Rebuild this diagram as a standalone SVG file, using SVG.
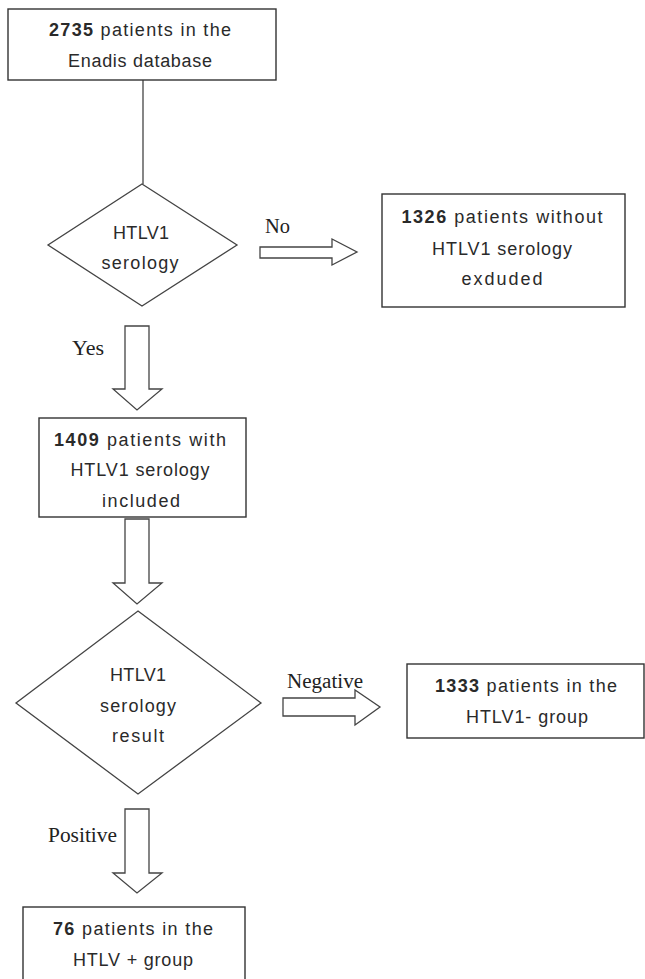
<svg xmlns="http://www.w3.org/2000/svg" width="645" height="979" viewBox="0 0 645 979">
<style>
.box{fill:#fff;stroke:#333;stroke-width:1.4}
.dia{fill:#fff;stroke:#444;stroke-width:1.3}
.arr{fill:#fff;stroke:#444;stroke-width:1.3;stroke-linejoin:miter}
.line{stroke:#444;stroke-width:1.3;fill:none}
.t{font-family:"Liberation Sans",Arial,sans-serif;font-size:18px;fill:#2a2a2a;text-anchor:middle}
.b{font-weight:bold}
.lbl{font-family:"Liberation Serif","Times New Roman",serif;font-size:20px;fill:#222}
</style>
<rect width="645" height="979" fill="#fff"/>
<g id="connectors">
<line class="line" x1="143" y1="80" x2="143" y2="184"/>
<path class="arr" d="M260,247 L332,247 L332,239 L357,252 L332,265 L332,258 L260,258 Z"/>
<path class="arr" d="M125,326 L149,326 L149,389 L162,389 L137,410 L113,389 L125,389 Z"/>
<path class="arr" d="M125,519 L149,519 L149,583 L162,583 L137,604 L113,583 L125,583 Z"/>
<path class="arr" d="M283,698 L355,698 L355,690 L380,707 L355,725 L355,716 L283,716 Z"/>
<path class="arr" d="M125,809 L149,809 L149,873 L162,873 L137,893 L113,873 L125,873 Z"/>
<text class="lbl" x="265" y="233" textLength="25" lengthAdjust="spacingAndGlyphs">No</text>
<text class="lbl" x="72" y="355" textLength="32" lengthAdjust="spacingAndGlyphs">Yes</text>
<text class="lbl" x="287" y="688" textLength="76" lengthAdjust="spacingAndGlyphs">Negative</text>
<text class="lbl" x="48" y="842" textLength="69" lengthAdjust="spacingAndGlyphs">Positive</text>
</g>
<g id="n1">
<rect class="box" x="8" y="9" width="268" height="71"/>
<text class="t" x="140" y="36" textLength="182" lengthAdjust="spacing"><tspan class="b">2735</tspan> patients in the</text>
<text class="t" x="140" y="67" textLength="144" lengthAdjust="spacing">Enadis database</text>
</g>
<g id="d1">
<polygon class="dia" points="142,184 237,245 142,306 48,245"/>
<text class="t" x="141" y="239" textLength="56" lengthAdjust="spacing">HTLV1</text>
<text class="t" x="140" y="269" textLength="77" lengthAdjust="spacing">serology</text>
</g>
<g id="n2">
<rect class="box" x="382" y="194" width="243" height="113"/>
<text class="t" x="502" y="223" textLength="201" lengthAdjust="spacing"><tspan class="b">1326</tspan> patients without</text>
<text class="t" x="502" y="255" textLength="140" lengthAdjust="spacing">HTLV1 serology</text>
<text class="t" x="502" y="285" textLength="81" lengthAdjust="spacing">exduded</text>
</g>
<g id="n3">
<rect class="box" x="39" y="418" width="207" height="99"/>
<text class="t" x="140" y="446" textLength="172" lengthAdjust="spacing"><tspan class="b">1409</tspan> patients with</text>
<text class="t" x="140" y="476" textLength="139" lengthAdjust="spacing">HTLV1 serology</text>
<text class="t" x="141" y="507" textLength="78" lengthAdjust="spacing">included</text>
</g>
<g id="d2">
<polygon class="dia" points="138,611 261,703 138,794 16,703"/>
<text class="t" x="138" y="681" textLength="56" lengthAdjust="spacing">HTLV1</text>
<text class="t" x="138" y="712" textLength="76" lengthAdjust="spacing">serology</text>
<text class="t" x="138" y="742" textLength="52" lengthAdjust="spacing">result</text>
</g>
<g id="n4">
<rect class="box" x="407" y="664" width="237" height="74"/>
<text class="t" x="526" y="692" textLength="182" lengthAdjust="spacing"><tspan class="b">1333</tspan> patients in the</text>
<text class="t" x="527" y="723" textLength="122" lengthAdjust="spacing">HTLV1- group</text>
</g>
<g id="n5">
<rect class="box" x="23" y="907" width="222" height="90"/>
<text class="t" x="133" y="935" textLength="160" lengthAdjust="spacing"><tspan class="b">76</tspan> patients in the</text>
<text class="t" x="133" y="966" textLength="120" lengthAdjust="spacing">HTLV + group</text>
</g>
</svg>
